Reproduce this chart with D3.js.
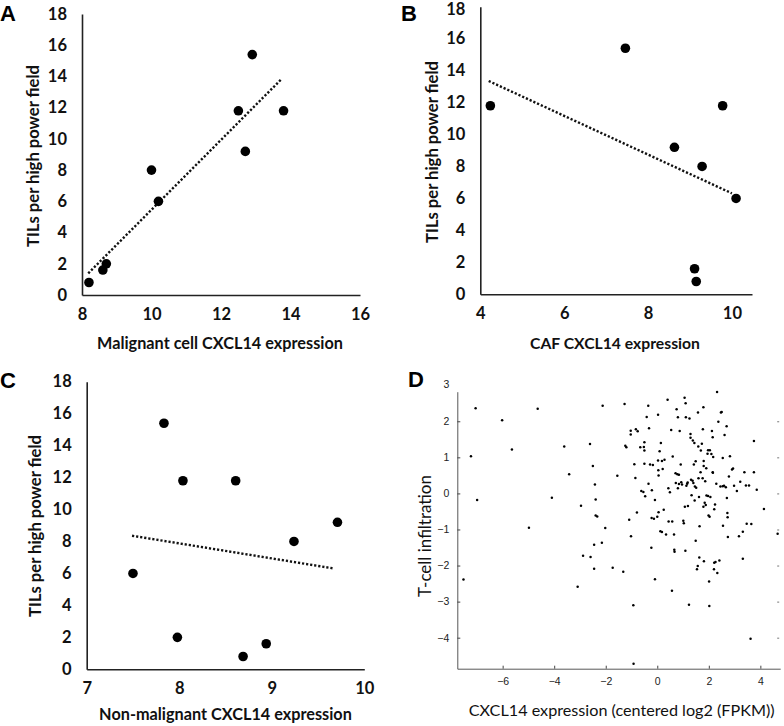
<!DOCTYPE html>
<html><head><meta charset="utf-8">
<script src="https://cdn.jsdelivr.net/npm/d3@7"></script>
<style>body{margin:0;background:#fff}svg{display:block}</style>
</head><body>
<svg id="c" width="784" height="726"></svg>
<script>
// Panel A
const aX = [8.2, 8.6, 8.7, 10.0, 10.2, 12.5, 12.7, 12.9, 13.8];
const aY = [0.8, 1.6, 2.0, 8.0, 6.0, 11.8, 9.2, 15.4, 11.8];
const aTrendX = [8.18, 13.75], aTrendY = [1.39, 13.85];
const aXTicks = [8, 10, 12, 14, 16];
// Panel B
const bX = [4.24, 7.46, 8.63, 9.29, 9.78, 10.1, 9.11, 9.15];
const bY = [11.8, 15.4, 9.2, 8.0, 11.8, 6.0, 1.6, 0.8];
const bTrendX = [4.2, 10.0], bTrendY = [13.35, 6.32];
const bXTicks = [4, 6, 8, 10];
// Panel C
const cX = [7.5, 7.835, 8.04, 7.98, 8.61, 8.69, 8.94, 9.24, 9.71];
const cY = [6.0, 15.4, 11.8, 2.0, 11.8, 0.8, 1.6, 8.0, 9.2];
const cTrendX = [7.49, 9.66], cTrendY = [8.36, 6.32];
const cXTicks = [7, 8, 9, 10];
const tilTicks = [0, 2, 4, 6, 8, 10, 12, 14, 16, 18];
// Panel D
const dX = [-7.52,-7.23,-7.05,-6.99,-6.02,-5.64,-4.98,-4.64,-4.09,-3.61,-3.42,-3.09,-2.96,-2.88,-2.61,-2.59,-2.50,-2.45,-2.45,-2.42,-2.39,-2.39,-2.33,-2.12,-2.15,-2.02,-1.73,-1.55,-1.32,-1.27,-1.24,-1.20,-1.09,-1.03,-1.03,-1.02,-0.93,-0.92,-0.89,-0.85,-0.83,-0.76,-0.79,-0.66,-0.62,-0.54,-0.52,-0.50,-0.50,-0.50,-0.47,-0.41,-0.35,-0.32,-0.34,-0.28,-0.23,-0.22,-0.21,-0.17,-0.13,-0.09,-0.09,0.00,0.03,0.03,0.04,0.05,0.05,0.09,0.14,0.12,0.18,0.18,0.21,0.25,0.28,0.34,0.40,0.43,0.44,0.49,0.54,0.57,0.58,0.60,0.65,0.66,0.67,0.71,0.72,0.75,0.78,0.80,0.80,0.84,0.84,0.87,0.91,0.93,0.96,1.01,1.03,1.06,1.07,1.09,1.10,1.11,1.13,1.16,1.18,1.19,1.23,1.25,1.29,1.29,1.31,1.33,1.37,1.38,1.40,1.42,1.44,1.45,1.46,1.49,1.49,1.51,1.54,1.57,1.58,1.59,1.60,1.62,1.63,1.64,1.68,1.69,1.73,1.76,1.77,1.79,1.79,1.80,1.80,1.81,1.84,1.86,1.88,1.90,1.91,1.95,1.97,1.97,1.99,2.01,2.02,2.03,2.04,2.06,2.10,2.12,2.15,2.15,2.16,2.17,2.20,2.21,2.21,2.24,2.26,2.29,2.32,2.33,2.37,2.41,2.45,2.47,2.50,2.54,2.54,2.55,2.59,2.61,2.66,2.69,2.70,2.72,2.73,2.74,2.78,2.82,2.90,2.94,2.98,3.09,3.17,3.22,3.32,3.32,3.38,3.44,3.47,3.56,3.62,3.65,3.75,3.75,3.86,4.14,4.67];
const dY = [-2.39,1.03,2.36,-0.18,2.03,1.22,-0.95,2.35,-0.12,1.30,0.53,-2.59,-0.34,-1.73,1.37,-1.76,0.76,-1.42,-2.09,0.25,-0.17,-0.61,-0.64,2.43,-1.37,-0.96,-2.06,0.49,-2.17,2.48,1.32,1.28,-0.73,1.74,1.63,-1.19,-3.10,-4.72,0.81,0.43,1.78,1.72,-0.53,1.28,0.07,0.04,1.29,1.42,1.19,0.82,-0.08,2.12,2.43,1.81,0.27,0.80,-1.51,-0.68,0.09,0.79,-0.70,-0.18,-2.38,-0.65,2.18,0.91,0.64,0.50,-0.52,1.17,1.40,-1.05,-1.07,0.90,0.68,-0.45,0.93,-1.14,2.60,0.14,-0.78,0.03,1.76,-2.70,-0.78,1.02,-1.14,-1.56,-1.62,0.56,0.29,2.33,0.53,2.11,0.14,0.52,0.26,1.73,0.80,0.31,0.25,-0.76,-0.83,2.65,-0.37,-1.59,2.50,2.11,0.21,0.27,0.30,-0.35,-3.09,2.08,1.65,1.54,0.38,-0.05,0.35,1.47,0.29,0.80,1.40,-0.20,0.19,0.89,-1.31,0.16,-2.10,-2.01,2.24,1.30,0.42,-0.10,-1.78,-0.91,0.59,1.19,1.38,0.42,1.78,2.39,-0.37,0.90,0.76,-1.88,-0.26,0.34,-0.32,0.70,-0.06,1.10,-0.07,1.20,-0.61,-2.44,-3.12,-0.65,1.20,-0.10,1.09,1.73,1.56,0.59,0.57,1.01,-2.10,-0.44,-1.92,-0.31,-1.90,0.27,2.81,-2.21,1.99,-1.86,0.19,2.24,2.26,0.98,0.20,-0.90,0.21,1.62,0.17,1.86,-0.13,-0.54,-0.66,-1.21,0.47,1.03,0.66,0.69,0.21,0.07,-1.19,0.32,-1.06,-1.81,0.59,0.22,-0.84,0.22,-4.03,-0.85,1.45,0.59,0.10,-0.43,-1.12];
const dXTicks = [-6, -4, -2, 0, 2, 4];
const dYTicks = [-4, -3, -2, -1, 0, 1, 2, 3];

const svg = d3.select('#c');
const FONT = "Lato, 'Open Sans', sans-serif";

// scale a text's font size so that it spans the given width
function fit(sel, base, width) {
  const w = sel.node().getComputedTextLength();
  if (w > 0) sel.attr('font-size', base * width / w);
  return sel;
}

function excelPanel(o) {
  const x = d3.scaleLinear().domain(o.xd).range([o.l, o.r]);
  const y = d3.scaleLinear().domain([0, 18]).range([o.b, o.t]);
  const g = svg.append('g');
  const ya = g.append('g').attr('transform', `translate(${o.l},0)`)
    .call(d3.axisLeft(y).tickValues(tilTicks).tickSize(0).tickPadding(15).tickFormat(d3.format('d')));
  ya.select('.domain').attr('stroke', '#222').attr('stroke-width', 1.6);
  ya.selectAll('text').attr('font-family', FONT).attr('font-weight', 700).attr('font-size', 16.5).attr('fill', '#111');
  if (o.topShift) ya.selectAll('.tick').filter(d => d === 18).select('text').attr('dy', '0.45em');
  const xa = g.append('g').attr('transform', `translate(0,${o.b})`)
    .call(d3.axisBottom(x).tickValues(o.xt).tickSize(0).tickPadding(13).tickFormat(d3.format('d')));
  xa.select('.domain').attr('stroke', '#222').attr('stroke-width', 1.6);
  xa.selectAll('text').attr('font-family', FONT).attr('font-weight', 700).attr('font-size', 16.5).attr('fill', '#111');
  g.append('line')
    .attr('x1', x(o.tx[0])).attr('y1', y(o.ty[0]))
    .attr('x2', x(o.tx[1])).attr('y2', y(o.ty[1]))
    .attr('stroke', '#111').attr('stroke-width', 2.4).attr('stroke-dasharray', '2.2,1.9');
  g.selectAll('circle').data(o.xs.map((v, i) => [v, o.ys[i]])).enter().append('circle')
    .attr('cx', d => x(d[0])).attr('cy', d => y(d[1])).attr('r', 4.8).attr('fill', '#000');
  const xt = g.append('text').attr('x', o.xtx).attr('y', o.xty).attr('text-anchor', 'middle')
    .attr('dominant-baseline', 'middle')
    .attr('font-family', FONT).attr('font-weight', 700).attr('font-size', 16).attr('fill', '#111').text(o.xtitle);
  fit(xt, 16, o.xtw);
  const yt = g.append('text').attr('transform', `translate(${o.ytx},${o.yty}) rotate(-90)`).attr('text-anchor', 'middle')
    .attr('dominant-baseline', 'middle')
    .attr('font-family', FONT).attr('font-weight', 700).attr('font-size', 16).attr('fill', '#111').text('TILs per high power field');
  fit(yt, 16, 182);
  svg.append('text').attr('x', o.lx).attr('y', o.ly).attr('font-family', 'Arial, "Liberation Sans", sans-serif')
    .attr('font-weight', 700).attr('font-size', 22).attr('fill', '#000').text(o.letter);
}

excelPanel({l: 82, r: 360, t: 14, b: 295, xd: [8, 16], xt: aXTicks, xs: aX, ys: aY, tx: aTrendX, ty: aTrendY,
  xtitle: 'Malignant cell CXCL14 expression', xtx: 220, xty: 345, xtw: 246, ytx: 35, yty: 156, letter: 'A', lx: 0, ly: 21});
excelPanel({l: 480.3, r: 752, t: 6.7, b: 294.3, xd: [4, 10.48], xt: bXTicks, xs: bX, ys: bY, tx: bTrendX, ty: bTrendY,
  xtitle: 'CAF CXCL14 expression', xtx: 615, xty: 345, xtw: 170, ytx: 434, yty: 152, letter: 'B', lx: 401, ly: 21, topShift: true});
excelPanel({l: 86.7, r: 364.3, t: 381.7, b: 669.3, xd: [7, 10], xt: cXTicks, xs: cX, ys: cY, tx: cTrendX, ty: cTrendY,
  xtitle: 'Non-malignant CXCL14 expression', xtx: 225.5, xty: 716, xtw: 253, ytx: 37, yty: 526, letter: 'C', lx: 0, ly: 388});

// Panel D
(function () {
  const l = 457.3, r = 780.2, t = 391.7, b = 668.7;
  const x = d3.scaleLinear().domain([-7.76, 4.77]).range([l, r]);
  const y = d3.scaleLinear().domain([-4.86, 2.82]).range([b, t]);
  const g = svg.append('g');
  const tf = 'Arial, "Liberation Sans", sans-serif';
  const ya = g.append('g').attr('transform', `translate(${l},0)`)
    .call(d3.axisLeft(y).tickValues(dYTicks.filter(v => v <= 2.82)).tickSizeInner(-3).tickSizeOuter(0).tickPadding(8));
  ya.select('.domain').attr('stroke', '#444').attr('stroke-width', 0.9);
  ya.selectAll('line').attr('stroke', '#444');
  ya.selectAll('text').attr('font-family', tf).attr('font-size', 10.5).attr('fill', '#222');
  g.append('text').attr('x', l - 8).attr('y', y(3)).attr('text-anchor', 'end').attr('dominant-baseline', 'middle')
    .attr('font-family', tf).attr('font-size', 10.5).attr('fill', '#222').text('3');
  const xa = g.append('g').attr('transform', `translate(0,${b})`)
    .call(d3.axisBottom(x).tickValues(dXTicks).tickSizeInner(-3).tickSizeOuter(0).tickPadding(9));
  xa.select('.domain').attr('stroke', '#444').attr('stroke-width', 0.9);
  xa.selectAll('line').attr('stroke', '#444');
  xa.selectAll('text').attr('font-family', tf).attr('font-size', 10.5).attr('fill', '#222');
  const ra = g.append('g').attr('transform', `translate(${r - 1},0)`)
    .call(d3.axisRight(y).tickValues(dYTicks.filter(v => v <= 2.82)).tickSizeInner(-2).tickSizeOuter(0).tickFormat(''));
  ra.select('.domain').remove();
  ra.selectAll('line').attr('stroke', '#777');
  g.selectAll('circle').data(dX.map((v, i) => [v, dY[i]])).enter().append('circle')
    .attr('cx', d => x(d[0])).attr('cy', d => y(d[1])).attr('r', 1.25).attr('fill', '#000');
  const xt = g.append('text').attr('x', 621.7).attr('y', 712).attr('text-anchor', 'middle').attr('dominant-baseline', 'middle')
    .attr('font-family', FONT).attr('font-size', 17).attr('fill', '#111').text('CXCL14 expression (centered log2 (FPKM))');
  fit(xt, 17, 306);
  const yt = g.append('text').attr('transform', `translate(427,536) rotate(-90)`).attr('text-anchor', 'middle')
    .attr('dominant-baseline', 'middle')
    .attr('font-family', FONT).attr('font-size', 17).attr('fill', '#111').text('T-cell infiltration');
  fit(yt, 17, 122);
  svg.append('text').attr('x', 408).attr('y', 387).attr('font-family', 'Arial, "Liberation Sans", sans-serif')
    .attr('font-weight', 700).attr('font-size', 22).attr('fill', '#000').text('D');
})();
</script>
</body></html>
